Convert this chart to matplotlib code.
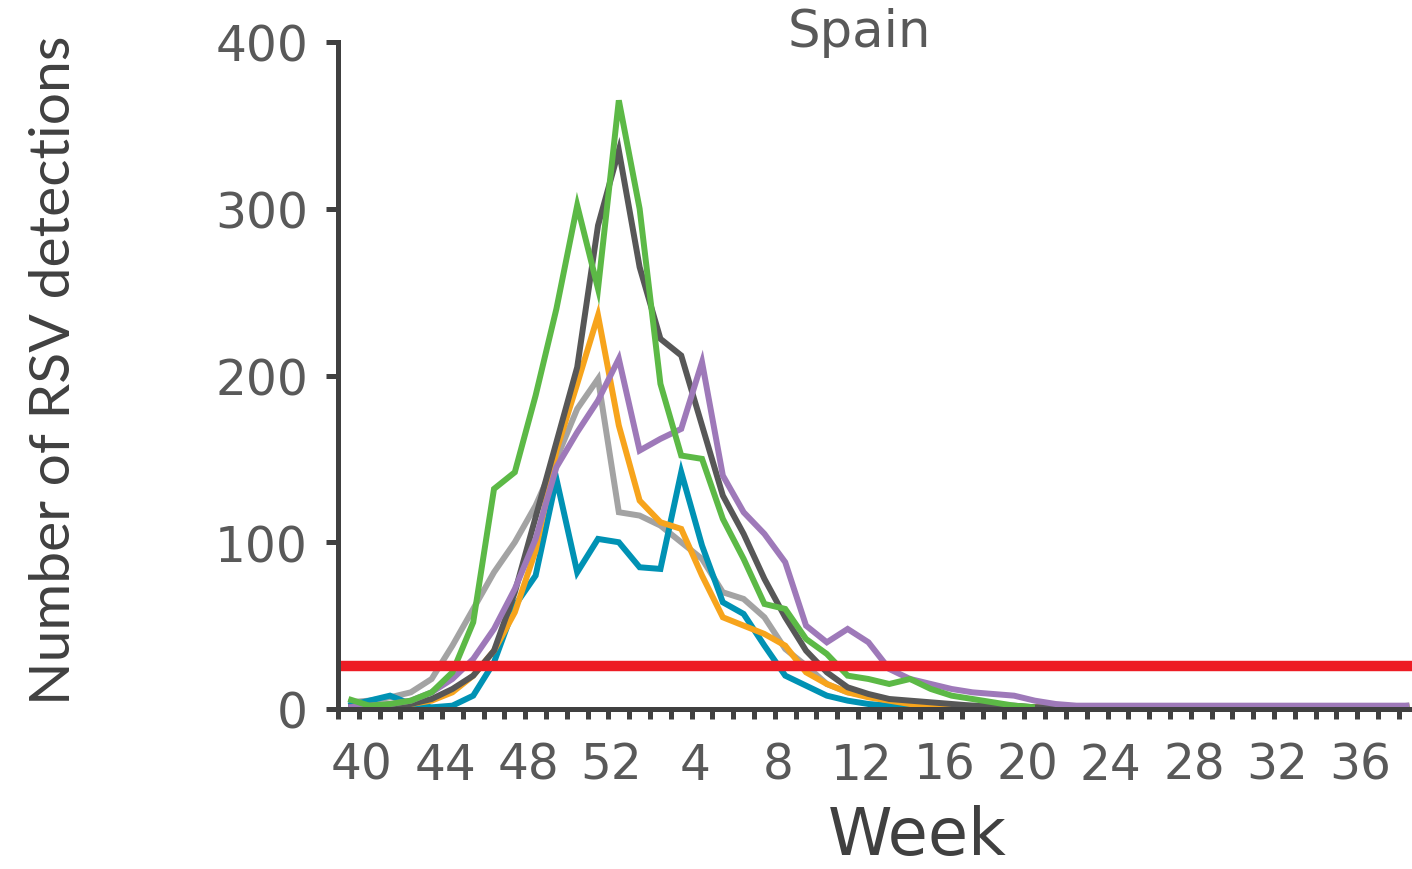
import matplotlib
matplotlib.use("Agg")
import matplotlib.pyplot as plt
from matplotlib.ticker import FixedLocator, FixedFormatter, NullFormatter

# Surveillance weeks of one season: week 40 through week 39 of the next year
weeks = list(range(40, 53)) + list(range(1, 40))

# Weekly RSV detections per season (one list per season line)
season_light_grey = [4, 5, 7, 10, 18, 38, 60, 82, 100, 122, 150, 180, 198, 118, 116, 110,
                     100, 90, 70, 66, 55, 36, 26, 15, 10, 8, 5, 4, 3, 2, 2, 1,
                     1, 1, 1, 1, 1, 1, 1, 1, 1, 1, 1, 1, 1, 1, 1, 1, 1, 1, 1, 1]
season_blue = [2, 5, 8, 3, 1, 2, 8, 28, 62, 80, 138, 82, 102, 100, 85, 84,
               142, 98, 64, 57, 38, 20, 14, 8, 5, 3, 2, 1, 1, 1, 1, 1,
               1, 1, 1, 1, 1, 0, 0, 0, 0, 0, 0, 0, 0, 0, 0, 0, 0, 0, 0, 0]
season_orange = [1, 1, 2, 3, 5, 10, 20, 35, 58, 95, 155, 195, 236, 170, 125, 112,
                 108, 80, 55, 50, 45, 38, 22, 15, 10, 7, 5, 3, 2, 2, 1, 1,
                 1, 1, 1, 1, 1, 1, 1, 1, 1, 1, 1, 1, 1, 1, 1, 1, 1, 1, 1, 1]
season_dark_grey = [1, 2, 2, 3, 6, 12, 20, 35, 70, 115, 160, 205, 290, 335, 265, 222,
                    212, 170, 128, 105, 78, 55, 35, 22, 13, 9, 6, 5, 4, 3, 2, 2,
                    2, 1, 1, 1, 1, 1, 1, 1, 1, 1, 1, 1, 1, 1, 1, 1, 1, 1, 1, 2]
season_purple = [1, 2, 3, 5, 10, 18, 30, 48, 72, 102, 145, 166, 185, 210, 155, 162,
                 168, 208, 140, 118, 105, 88, 50, 40, 48, 40, 24, 18, 15, 12, 10, 9,
                 8, 5, 3, 2, 2, 2, 2, 2, 2, 2, 2, 2, 2, 2, 2, 2, 2, 2, 2, 2]
season_green = [6, 2, 3, 5, 10, 22, 52, 132, 142, 188, 240, 302, 252, 365, 300, 195,
                152, 150, 114, 90, 63, 60, 42, 33, 20, 18, 15, 18, 12, 8, 6, 4,
                2, 1]

threshold = 26

tick_weeks = [40, 44, 48, 52, 4, 8, 12, 16, 20, 24, 28, 32, 36]
y_ticks = [0, 100, 200, 300, 400]

axis_col = "#404040"
text_col = "#595959"

fig = plt.figure(figsize=(14.12, 8.70), dpi=100)
ax = fig.add_axes([338 / 1412, 160 / 870, 1 - 338 / 1412, 667 / 870])

x_all = list(range(len(weeks)))
series = [
    (season_light_grey, "#a3a3a3"),
    (season_blue, "#0092b4"),
    (season_orange, "#f7a41c"),
    (season_dark_grey, "#575757"),
    (season_purple, "#9e79b9"),
    (season_green, "#5cb946"),
]
for vals, col in series:
    ax.plot(x_all[:len(vals)], vals, color=col, lw=4.3, solid_joinstyle="miter",
            solid_capstyle="butt", zorder=3)

ax.axhline(threshold, color="#ed1c24", lw=7.5, zorder=5)

ax.set_xlim(-0.5, 51.13)
ax.set_ylim(0, 400)

for side in ("top", "right"):
    ax.spines[side].set_visible(False)
for side in ("left", "bottom"):
    ax.spines[side].set_color(axis_col)
    ax.spines[side].set_linewidth(3.6)
    ax.spines[side].set_zorder(6)

# week ticks sit on category boundaries, labels every fourth week
ax.xaxis.set_minor_locator(FixedLocator([k - 0.5 for k in range(len(weeks) + 1)]))
ax.xaxis.set_minor_formatter(NullFormatter())
ax.tick_params(axis="x", which="minor", direction="out", length=7.2, width=3.6,
               color=axis_col)
ax.xaxis.set_major_locator(FixedLocator([weeks.index(w) + 0.65 for w in tick_weeks]))
ax.xaxis.set_major_formatter(FixedFormatter([str(w) for w in tick_weeks]))
ax.tick_params(axis="x", which="major", length=0, pad=23, labelsize=35,
               labelcolor=text_col)

ax.yaxis.set_major_locator(FixedLocator(y_ticks))
ax.tick_params(axis="y", which="major", direction="out", length=8.6, width=3.6,
               color=axis_col, pad=13, labelsize=35, labelcolor=text_col)
for lab in ax.get_xticklabels() + ax.get_yticklabels():
    lab.set_family("DejaVu Sans")

fig.text(55 / 1412, 1 - 370 / 870, "Number of RSV detections", rotation=90,
         ha="center", va="center", family="Lato", fontsize=41, color=axis_col)
fig.text(917 / 1412, 1 - 855 / 870, "Week", ha="center", va="baseline",
         family="DejaVu Sans", fontsize=47, color=axis_col)
fig.text(859 / 1412, 1 - 47 / 870, "Spain", ha="center", va="baseline",
         family="DejaVu Sans", fontsize=37, color=text_col)

fig.savefig("out.png", dpi=100)
